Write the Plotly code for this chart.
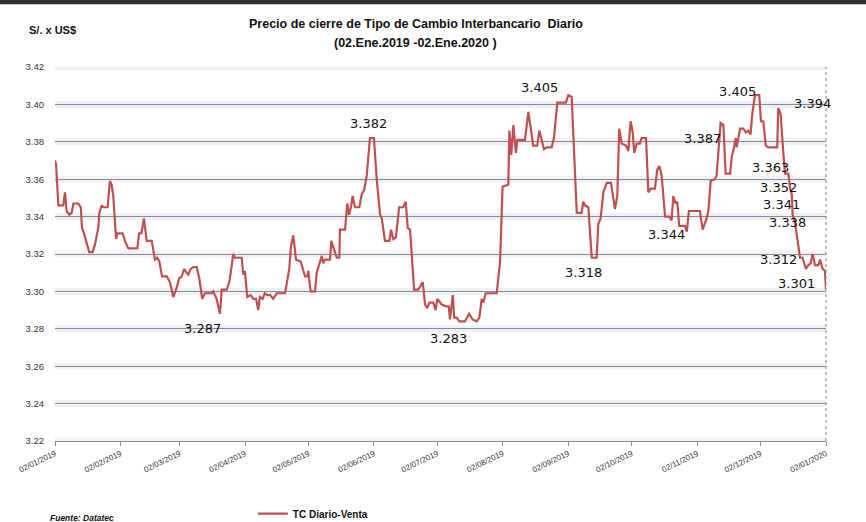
import pandas as pd
import plotly.graph_objects as go

# ---- data ----
start_date = "2019-01-02"
day_offsets = [
    0, 0.5, 1.6, 3.9, 4.7, 5.5, 6.8, 7.9, 8.7, 11.0, 12.2, 12.8, 13.7, 16.2, 17.8, 18.9,
    20.5, 21.0, 22.1, 22.9, 24.9, 26.0, 26.8, 27.6, 28.9, 29.5, 32.0, 33.1, 34.7, 36.3,
    39.0, 39.8, 40.9, 42.1, 43.4, 45.8, 47.3, 48.4, 49.4, 50.7, 52.9, 54.4, 56.0, 57.6,
    58.8, 60.0, 61.1, 62.3, 63.1, 64.2, 65.5, 67.1, 68.3, 69.7, 71.0, 72.1, 74.2, 74.9,
    76.5, 78.1, 78.9, 81.3, 82.5, 83.2, 84.4, 85.2, 88.4, 89.1, 89.9, 91.0, 92.6, 93.9,
    95.2, 96.2, 97.0, 98.3, 99.3, 100.5, 101.8, 103.3, 105.0, 108.9, 110.9, 111.7, 112.8,
    114.1, 116.3, 118.4, 119.4, 119.9, 121.0, 123.1, 123.9, 126.3, 127.0, 127.8, 130.2,
    130.8, 132.6, 133.4, 134.6, 134.9, 137.3, 138.4, 139.2, 140.1, 140.9, 142.0, 144.1,
    145.2, 146.3, 147.6, 149.1, 151.0, 152.3, 153.9, 154.7, 156.2, 158.3, 159.1, 160.2,
    161.4, 162.9, 164.9, 166.0, 167.0, 168.1, 170.0, 172.0, 174.1, 175.2, 176.2, 177.2,
    179.1, 180.2, 181.0, 183.1, 185.1, 186.4, 187.0, 188.3, 189.0, 190.2, 191.4, 194.1,
    196.0, 197.7, 199.6, 200.9, 202.0, 202.8, 203.9, 209.1, 210.7, 211.9, 214.6, 215.1,
    216.0, 217.0, 218.2, 218.9, 222.5, 224.1, 225.2, 226.4, 228.3, 229.3, 231.5, 232.8,
    235.1, 236.2, 237.8, 241.9, 243.0, 244.6, 245.4, 247.0, 249.3, 250.1, 250.9, 252.5,
    254.1, 256.4, 257.2, 258.3, 259.6, 261.2, 263.2, 265.1, 266.2, 267.1, 268.3, 270.3,
    271.4, 272.5, 273.5, 274.2, 275.4, 276.9, 277.7, 279.8, 280.9, 282.1, 284.0, 285.1,
    286.1, 287.2, 288.8, 290.8, 291.9, 292.7, 293.8, 294.6, 295.5, 298.2, 299.1, 300.1,
    305.3, 306.6, 308.5, 309.3, 310.4, 312.4, 313.2, 315.1, 316.4, 317.5, 319.6, 320.4,
    321.1, 322.3, 322.7, 324.3, 325.8, 327.1, 328.2, 329.3, 330.1, 331.4, 333.4, 334.2,
    335.3, 336.5, 337.7, 341.9, 342.4, 343.5, 344.8, 345.6, 347.2, 348.0, 348.8, 349.2,
    350.3, 351.4, 352.7, 353.9, 355.5, 356.6, 357.7, 358.7, 359.8, 361.4, 362.2, 363.4,
    364.5, 365.0,
]
tc_venta = [
    3.370, 3.368, 3.346, 3.346, 3.353, 3.343, 3.341, 3.342, 3.347, 3.347, 3.345, 3.334, 3.331, 3.321, 3.321, 3.325,
    3.334, 3.342, 3.346, 3.345, 3.345, 3.359, 3.357, 3.351, 3.328, 3.331, 3.331, 3.327, 3.323, 3.323,
    3.323, 3.331, 3.331, 3.339, 3.327, 3.327, 3.317, 3.318, 3.316, 3.308, 3.308, 3.305, 3.297, 3.302,
    3.307, 3.308, 3.312, 3.310, 3.309, 3.312, 3.313, 3.313, 3.307, 3.296, 3.299, 3.299, 3.299, 3.300,
    3.296, 3.288, 3.301, 3.301, 3.305, 3.310, 3.320, 3.318, 3.318, 3.309, 3.311, 3.297, 3.298, 3.296,
    3.296, 3.290, 3.297, 3.296, 3.299, 3.298, 3.298, 3.296, 3.299, 3.299, 3.312, 3.324, 3.330,
    3.317, 3.316, 3.308, 3.308, 3.311, 3.300, 3.300, 3.310, 3.319, 3.315, 3.317, 3.317,
    3.327, 3.321, 3.318, 3.318, 3.333, 3.333, 3.347, 3.341, 3.345, 3.351, 3.345, 3.345,
    3.352, 3.354, 3.362, 3.382, 3.382, 3.360, 3.341, 3.339, 3.327, 3.327, 3.333, 3.328,
    3.329, 3.345, 3.345, 3.348, 3.334, 3.333, 3.301, 3.301, 3.305, 3.293, 3.291, 3.294,
    3.294, 3.290, 3.296, 3.293, 3.292, 3.292, 3.285, 3.298, 3.286, 3.286, 3.284, 3.284,
    3.288, 3.285, 3.284, 3.286, 3.296, 3.294, 3.299, 3.299, 3.316, 3.356, 3.357, 3.386,
    3.373, 3.389, 3.374, 3.381, 3.381, 3.396, 3.388, 3.378, 3.378, 3.386, 3.376, 3.377,
    3.377, 3.382, 3.401, 3.401, 3.405, 3.404, 3.383, 3.342, 3.342, 3.348, 3.346, 3.345,
    3.318, 3.318, 3.336, 3.339, 3.353, 3.358, 3.358, 3.344, 3.351, 3.387, 3.379, 3.378,
    3.375, 3.391, 3.385, 3.374, 3.379, 3.379, 3.382, 3.382, 3.353, 3.355, 3.355, 3.365,
    3.367, 3.362, 3.340, 3.340, 3.338, 3.351, 3.347, 3.348, 3.335, 3.335, 3.332, 3.343,
    3.343, 3.333, 3.339, 3.343, 3.359, 3.360, 3.362, 3.390, 3.389, 3.363, 3.363, 3.372,
    3.375, 3.382, 3.377, 3.387, 3.387, 3.385, 3.386, 3.384, 3.395, 3.405, 3.405, 3.391,
    3.391, 3.378, 3.377, 3.377, 3.398, 3.395, 3.374, 3.363, 3.363, 3.355, 3.352, 3.341,
    3.337, 3.328, 3.318, 3.318, 3.312, 3.314, 3.315, 3.320, 3.314, 3.314, 3.317, 3.312,
    3.311, 3.301,
]
series_name = "TC Diario-Venta"

label_texts = ["3.287", "3.382", "3.283", "3.405", "3.318", "3.344", "3.387", "3.405",
               "3.394", "3.363", "3.352", "3.341", "3.338", "3.312", "3.301"]
label_days = [69.6, 148.6, 186.5, 229.6, 250.0, 289.7, 306.3, 323.3,
              358.4, 338.9, 342.7, 344.0, 346.9, 342.3, 350.8]
label_values = [3.280, 3.390, 3.275, 3.409, 3.310, 3.3305, 3.382, 3.407,
                3.4006, 3.366, 3.3553, 3.3464, 3.3368, 3.317, 3.3042]

tick_dates = ["2019-01-02", "2019-02-02", "2019-03-02", "2019-04-02", "2019-05-02",
              "2019-06-02", "2019-07-02", "2019-08-02", "2019-09-02", "2019-10-02",
              "2019-11-02", "2019-12-02", "2020-01-02"]
y_ticks = [3.22, 3.24, 3.26, 3.28, 3.30, 3.32, 3.34, 3.36, 3.38, 3.40, 3.42]

title_line1 = "Precio de cierre de Tipo de Cambio Interbancario  Diario"
title_line2 = "(02.Ene.2019 -02.Ene.2020 )"
unit_label = "S/. x US$"
source_label = "Fuente: Datatec"

# ---- build ----
base = pd.Timestamp(start_date)
x_dates = base + pd.to_timedelta(day_offsets, unit="D")
lbl_x = base + pd.to_timedelta(label_days, unit="D")

fig = go.Figure()
fig.add_trace(go.Scatter(
    x=x_dates, y=tc_venta, mode="lines", name="<b>" + series_name + "</b>",
    line=dict(color="#C0504D", width=2.2),
    hoverinfo="skip",
))

ann = []
for t, dx, v in zip(label_texts, lbl_x, label_values):
    ann.append(dict(x=dx, y=v, xref="x", yref="y", text=t, showarrow=False,
                    font=dict(family="DejaVu Sans", size=13, color="#111111"),
                    xanchor="center", yanchor="middle"))

ann += [
    dict(x=0.468, y=1.115, xref="paper", yref="paper", text="<b>" + title_line1 + "</b>",
         showarrow=False, font=dict(family="Liberation Sans", size=12.5, color="#111"),
         xanchor="center", yanchor="middle"),
    dict(x=0.468, y=1.064, xref="paper", yref="paper", text="<b>" + title_line2 + "</b>",
         showarrow=False, font=dict(family="Liberation Sans", size=12.5, color="#111"),
         xanchor="center", yanchor="middle"),
    dict(x=-0.036, y=1.1, xref="paper", yref="paper", text="<b>" + unit_label + "</b>",
         showarrow=False, font=dict(family="Liberation Sans", size=11, color="#111"),
         xanchor="left", yanchor="middle"),
    dict(x=-0.0091, y=-0.205, xref="paper", yref="paper", text="<b><i>" + source_label + "</i></b>",
         showarrow=False, font=dict(family="Liberation Sans", size=8.5, color="#111"),
         xanchor="left", yanchor="middle"),
]

shapes = []
# soft glow under each gridline
for yv in y_ticks:
    shapes.append(dict(type="line", xref="paper", yref="y", x0=0, x1=1, y0=yv, y1=yv,
                       line=dict(color="rgba(205,215,235,0.35)", width=7), layer="below"))
# dotted right border
shapes.append(dict(type="line", xref="paper", yref="paper", x0=1, x1=1, y0=0, y1=1,
                   line=dict(color="#808080", width=1, dash="dot")))
# dark strip at the top of the image
shapes.append(dict(type="rect", xref="paper", yref="paper", x0=-0.08, x1=1.06,
                   y0=1.168, y1=1.19, fillcolor="#2f2f2f", line=dict(width=0)))

fig.update_layout(
    width=866, height=522,
    margin=dict(l=55, r=40, t=67, b=81, autoexpand=False),
    paper_bgcolor="white", plot_bgcolor="white",
    showlegend=True,
    legend=dict(orientation="h", xref="container", yref="container",
                x=0.292, y=0.016, xanchor="left", yanchor="middle",
                font=dict(family="Liberation Sans", size=10, color="#111"),
                bgcolor="rgba(0,0,0,0)", itemwidth=30, borderwidth=0),
    annotations=ann,
    shapes=shapes,
    xaxis=dict(
        type="date",
        range=[pd.Timestamp(tick_dates[0]), pd.Timestamp(tick_dates[-1])],
        tickvals=[pd.Timestamp(d) for d in tick_dates],
        tickformat="%d/%m/%Y",
        tickangle=-26,
        tickfont=dict(family="Liberation Sans", size=8, color="#333"),
        ticks="outside", ticklen=4, tickcolor="#8c8c8c",
        showline=True, linecolor="#8c8c8c", linewidth=1,
        showgrid=False, zeroline=False, automargin=False,
    ),
    yaxis=dict(
        range=[3.22, 3.42],
        tickvals=y_ticks,
        tickformat=".2f",
        tickfont=dict(family="Liberation Sans", size=9.5, color="#333"),
        showgrid=True, gridcolor="#8c8c8c", gridwidth=1.2,
        zeroline=False, showline=False, automargin=False,
        ticks="", ticklabelstandoff=10,
    ),
)

fig.write_html("out.html", config={"displayModeBar": False},
               post_script="document.body.style.margin='0px';")
